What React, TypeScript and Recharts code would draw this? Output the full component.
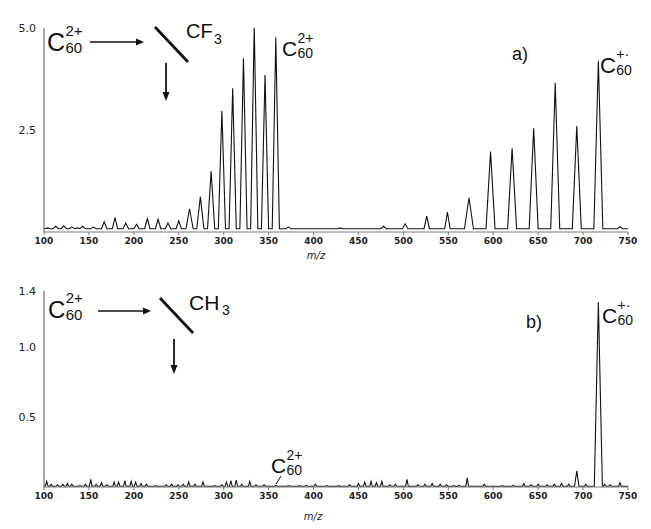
import React from 'react';
import { LineChart, Line, XAxis, YAxis } from 'recharts';

// m/z axis ticks shared by both panels
const MZ_TICKS = [100, 150, 200, 250, 300, 350, 400, 450, 500, 550, 600, 650, 700, 750];

// panel a) CF3 — peak positions (m/z) and intensities
const TOP_PEAK_MZ = [104, 113, 122, 131, 137, 143, 155, 167, 179, 191, 203, 215, 227, 238, 250, 262, 274, 286, 298, 310, 322, 334, 346, 358, 372, 430, 478, 502, 526, 549, 573, 597, 621, 645, 669, 693, 717, 741];
const TOP_PEAK_INT = [0.1, 0.14, 0.15, 0.12, 0.1, 0.14, 0.12, 0.25, 0.35, 0.22, 0.19, 0.33, 0.31, 0.22, 0.27, 0.57, 0.86, 1.49, 2.97, 3.52, 4.26, 5.06, 3.85, 4.77, 0.12, 0.1, 0.14, 0.2, 0.39, 0.49, 0.84, 1.97, 2.05, 2.54, 3.65, 2.6, 4.2, 0.13];
const TOP_Y_TICKS = [2.5, 5.0];

// panel b) CH3
const BOT_PEAK_MZ = [103, 108, 115, 121, 126, 131, 140, 146, 152, 158, 164, 170, 178, 183, 190, 197, 202, 208, 214, 224, 236, 242, 249, 255, 261, 268, 277, 290, 298, 303, 308, 314, 320, 329, 336, 345, 358, 372, 384, 392, 402, 415, 428, 440, 450, 457, 464, 470, 476, 485, 491, 504, 516, 524, 532, 541, 548, 556, 562, 571, 590, 610, 622, 634, 642, 650, 660, 668, 676, 684, 693, 703, 717, 724, 730, 741];
const BOT_PEAK_INT = [0.04, 0.02, 0.015, 0.02, 0.025, 0.02, 0.01, 0.02, 0.055, 0.02, 0.03, 0.015, 0.035, 0.035, 0.045, 0.04, 0.035, 0.025, 0.02, 0.01, 0.015, 0.02, 0.015, 0.02, 0.035, 0.02, 0.035, 0.01, 0.015, 0.035, 0.045, 0.05, 0.02, 0.04, 0.015, 0.015, 0.012, 0.01, 0.01, 0.012, 0.02, 0.01, 0.01, 0.015, 0.025, 0.035, 0.04, 0.03, 0.04, 0.015, 0.02, 0.055, 0.015, 0.02, 0.025, 0.02, 0.015, 0.01, 0.012, 0.065, 0.02, 0.01, 0.012, 0.025, 0.015, 0.02, 0.015, 0.02, 0.025, 0.02, 0.115, 0.02, 1.32, 0.02, 0.015, 0.03];
const BOT_Y_TICKS = [0.5, 1.0, 1.4];

const tickFont = { fontFamily: 'DejaVu Sans', fontWeight: 'bold', fontSize: 9, fill: '#222' };
const yTickFont = { fontFamily: 'DejaVu Sans', fontSize: 11, fill: '#222' };
const labelFont = 'Liberation Sans, Arial, sans-serif';

// turn a peak list into a stick-triangle spectrum trace
function buildSpectrum(mz: number[], inten: number[], base: number, halfWidth: (h: number, m: number) => number) {
    const pts: { m: number; y: number }[] = [{ m: 100, y: base }];
    mz.forEach((m, i) => {
        const w = halfWidth(inten[i], m);
        pts.push({ m: m - w, y: base });
        pts.push({ m, y: inten[i] });
        pts.push({ m: m + w, y: base });
    });
    pts.push({ m: 750, y: base });
    return pts;
}

const topData = buildSpectrum(TOP_PEAK_MZ, TOP_PEAK_INT, 0.08, (h, m) => (h < 0.5 ? 3 : m > 400 ? 5 : 4));
const botData = buildSpectrum(BOT_PEAK_MZ, BOT_PEAK_INT, 0.005, (h) => (h > 1 ? 4.5 : h > 0.1 ? 2.5 : 1.5));

const Formula: React.FC<{ x: number; y: number; size: number; sup?: string; sub: string; small: number }> = ({ x, y, size, sup, sub, small }) => {
    const sx = x + size * 0.74;
    return (
        <g fontFamily={labelFont} fill="#111">
            <text x={x} y={y} fontSize={size}>C</text>
            {sup && <text x={sx} y={y - size * 0.62} fontSize={small}>{sup}</text>}
            <text x={sx} y={y + 2} fontSize={small}>{sub}</text>
        </g>
    );
};

const Annotations: React.FC = () => (
    <svg width={651} height={529} style={{ position: 'absolute', left: 0, top: 0, pointerEvents: 'none' }}>
        {/* panel a */}
        <Formula x={47} y={51} size={25} sup="2+" sub="60" small={15} />
        <line x1={90} y1={42} x2={137} y2={42} stroke="#111" strokeWidth={1.3} />
        <polygon points="144,42 136,38.5 136,45.5" fill="#111" />
        <line x1={155} y1={27} x2={188} y2={62} stroke="#111" strokeWidth={2.8} />
        <line x1={166} y1={63} x2={166} y2={93} stroke="#111" strokeWidth={1.8} />
        <polygon points="166,101 162.5,92 169.5,92" fill="#111" />
        <text x={186} y={38} fontSize={20} fontFamily={labelFont} fill="#111">CF</text>
        <text x={214} y={44} fontSize={14} fontFamily={labelFont} fill="#111">3</text>
        <Formula x={282} y={56} size={21} sup="2+" sub="60" small={14} />
        <text x={512} y={60} fontSize={18} fontFamily={labelFont} fill="#111">a)</text>
        <Formula x={600} y={73} size={22} sup="+·" sub="60" small={14} />
        <text x={316} y={259} fontSize={10} fontStyle="italic" fontFamily="DejaVu Sans" textAnchor="middle" fill="#222">m/z</text>

        {/* panel b */}
        <Formula x={48} y={318} size={24} sup="2+" sub="60" small={15} />
        <line x1={98} y1={311} x2={144} y2={311} stroke="#111" strokeWidth={1.3} />
        <polygon points="151,311 143,307.5 143,314.5" fill="#111" />
        <line x1={160} y1={298} x2={193} y2={333} stroke="#111" strokeWidth={2.8} />
        <line x1={174} y1={339} x2={174} y2={366} stroke="#111" strokeWidth={1.8} />
        <polygon points="174,374 170.5,365 177.5,365" fill="#111" />
        <text x={189} y={310} fontSize={21} fontFamily={labelFont} fill="#111">CH</text>
        <text x={222} y={315} fontSize={14} fontFamily={labelFont} fill="#111">3</text>
        <Formula x={271} y={473} size={21} sup="2+" sub="60" small={14} />
        <line x1={276} y1={484} x2={281} y2={476} stroke="#111" strokeWidth={1} />
        <text x={526} y={328} fontSize={18} fontFamily={labelFont} fill="#111">b)</text>
        <Formula x={602} y={323} size={21} sup="+·" sub="60" small={14} />
        <text x={313} y={520} fontSize={10} fontStyle="italic" fontFamily="DejaVu Sans" textAnchor="middle" fill="#222">m/z</text>
    </svg>
);

const Panel: React.FC<{ data: { m: number; y: number }[]; yMax: number; yTicks: number[]; height: number; margin: any }> = ({ data, yMax, yTicks, height, margin }) => (
    <LineChart width={651} height={height} data={data} margin={margin}>
        <XAxis
            dataKey="m"
            type="number"
            domain={[100, 750]}
            ticks={MZ_TICKS}
            allowDataOverflow
            height={30}
            tickSize={3}
            tickMargin={3}
            tick={tickFont}
            stroke="#777"
            interval={0}
        />
        <YAxis
            type="number"
            domain={[0, yMax]}
            ticks={yTicks}
            width={44}
            tickLine={false}
            tickSize={0}
            tickMargin={8}
            tick={yTickFont}
            tickFormatter={(v: number) => v.toFixed(1)}
            stroke="#555"
            allowDataOverflow
        />
        <Line type="linear" dataKey="y" stroke="#111" strokeWidth={1.1} dot={false} isAnimationActive={false} />
    </LineChart>
);

export default function App() {
    return (
        <div style={{ position: 'absolute', left: 0, top: 0, width: 651, height: 529, background: '#fff' }}>
            <div style={{ position: 'absolute', left: 0, top: 0 }}>
                <Panel data={topData} yMax={5} yTicks={TOP_Y_TICKS} height={265} margin={{ top: 28, right: 23, left: 0, bottom: 3 }} />
            </div>
            <div style={{ position: 'absolute', left: 0, top: 265 }}>
                <Panel data={botData} yMax={1.4} yTicks={BOT_Y_TICKS} height={264} margin={{ top: 26, right: 23, left: 0, bottom: 12 }} />
            </div>
            <Annotations />
        </div>
    );
}
